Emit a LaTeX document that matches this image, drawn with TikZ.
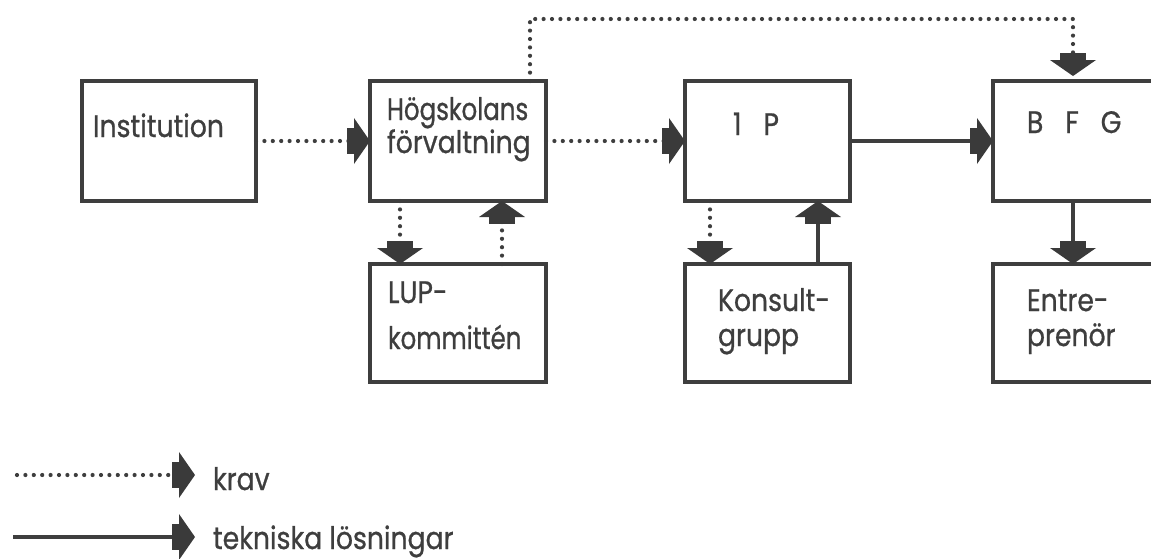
\documentclass[tikz,border=0pt]{standalone}
\usepackage{fontspec}
\setmainfont{Poppins}[FakeStretch=0.86,FakeBold=0.8]
\usetikzlibrary{arrows.meta}
\definecolor{ink}{RGB}{62,62,62}
\definecolor{headcol}{RGB}{58,58,58}
\tikzset{
  box/.style={draw=ink, line width=3.8pt, inner sep=0pt, outer sep=0pt},
  lbl/.style={anchor=base west, inner sep=0pt, outer sep=0pt, text=ink,
    font=\fontsize{31}{36}\selectfont},
  narrow/.style={font=\fontsize{31}{36}\selectfont\addfontfeature{FakeStretch=0.79}},
  fathead/.style={-{Rectangle[length=7pt,width=26pt,line width=0pt,fill=headcol,color=headcol]Triangle[length=16pt,width=46pt,line width=0pt,fill=headcol,color=headcol]}},
  dotarrow/.style={draw=ink, line width=4.2pt, dash pattern=on 0pt off 8.4pt, line cap=round, fathead},
  solarrow/.style={draw=ink, line width=3.5pt, fathead},
}
\begin{document}
\begin{tikzpicture}[x=1pt,y=-1pt]
\useasboundingbox (0,0) rectangle (1151,558);
\clip (0,0) rectangle (1151,558);
% boxes
\node[box, minimum width=174pt, minimum height=120pt] (inst) at (169,141) {};
\node[box, minimum width=176pt, minimum height=120pt] (hf) at (458,141) {};
\node[box, minimum width=165pt, minimum height=120pt] (ip) at (767.5,141) {};
\node[box, minimum width=207pt, minimum height=120pt] (bfg) at (1096.5,141) {};
\node[box, minimum width=176pt, minimum height=118pt] (lup) at (458,323) {};
\node[box, minimum width=165pt, minimum height=118pt] (kon) at (767.5,323) {};
\node[box, minimum width=207pt, minimum height=118pt] (ent) at (1096.5,323) {};
% texts
\node[lbl] (tinst) at (93,137) {Institution};
\node[lbl, narrow] (thf1) at (387,120) {Högskolans};
\node[lbl] (thf2) at (387,153) {förvaltning};
\node[lbl] (tip) at (733,135) {1\hspace{22pt}P};
\node[lbl] (tbfg) at (1027,133) {B\hspace{22pt}F\hspace{22pt}G};
\node[lbl] (tlup1) at (388,303) {LUP-};
\node[lbl, narrow] (tlup2) at (388,349) {kommittén};
\node[lbl] (tkon1) at (718,311) {Konsult-};
\node[lbl] (tkon2) at (718,346) {grupp};
\node[lbl] (tent1) at (1027,311) {Entre-};
\node[lbl] (tent2) at (1027,346) {prenör};
% column coordinates
\coordinate (xa) at (400,0);
\coordinate (xb) at (502,0);
\coordinate (xc) at (710,0);
\coordinate (xd) at (818,0);
\coordinate (xe) at (1073,0);
\coordinate (c1) at (530,19);
\coordinate (c2) at (1073,19);
% connectors
\draw[dotarrow] (inst.east) -- (hf.west);
\draw[dotarrow] (hf.east) -- (ip.west);
\draw[solarrow] (ip.east) -- (bfg.west);
\draw[dotarrow] (hf.south -| xa) -- (lup.north -| xa);
\draw[dotarrow] (lup.north -| xb) -- (hf.south -| xb);
\draw[dotarrow] (ip.south -| xc) -- (kon.north -| xc);
\draw[solarrow] (kon.north -| xd) -- (ip.south -| xd);
\draw[solarrow] (bfg.south -| xe) -- (ent.north -| xe);
\draw[dotarrow, shorten >=5pt] (hf.north -| c1) -- (c1) -- (c2) -- (bfg.north -| c2);
% legend
\coordinate (l1s) at (17,475);
\coordinate (l1e) at (195,475);
\coordinate (l2s) at (13,537);
\coordinate (l2e) at (195,537);
\draw[dotarrow] (l1s) -- (l1e);
\draw[solarrow] (l2s) -- (l2e);
\node[lbl] (tkrav) at (213,490) {krav};
\node[lbl] (ttek) at (213,549) {tekniska lösningar};
\end{tikzpicture}
\end{document}
